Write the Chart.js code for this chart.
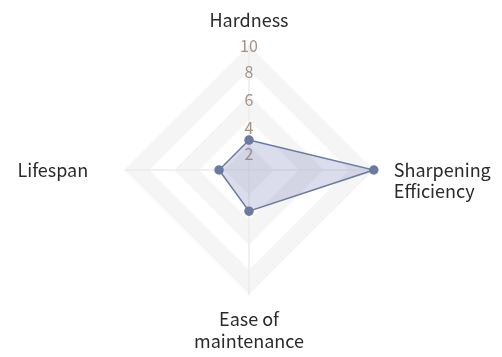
<!DOCTYPE html>
<html>
<head>
<meta charset="utf-8">
<script src="https://cdn.jsdelivr.net/npm/chart.js@4"></script>
<style>
  html, body { margin: 0; padding: 0; background: #fff; overflow: hidden; }
  #wrap { width: 502px; height: 363px; }
</style>
</head>
<body>
<div id="wrap"><canvas id="chart"></canvas></div>
<script>
// leading "" keeps "Sharpening" level with the axis, as in the original
const categories = ["Hardness", ["", "Sharpening", "Efficiency"], ["Ease of", "maintenance"], "Lifespan"];
const values = [2.4, 10, 3.3, 2.4];
const tickLabels = [2, 4, 6, 8, 10];

const font = "'Noto Sans CJK JP', 'Noto Sans', sans-serif";
// gap between the outer ring and each category label
const labelGaps = [14, 20, 14, 36];
// the tick numbers sit a little below their rings in the original
const tickDrop = { 2: 9, 4: 8, 6: 5, 8: 2, 10: 1 };

new Chart(document.getElementById("chart"), {
  type: "radar",
  data: {
    labels: categories,
    datasets: [
      {
        data: values,
        borderColor: "rgba(106, 122, 160, 1)",
        backgroundColor: "rgba(110, 112, 175, 0.24)",
        borderWidth: 1.5,
        pointBackgroundColor: "rgba(106, 122, 160, 1)",
        pointBorderColor: "rgba(106, 122, 160, 1)",
        pointRadius: 4,
        fill: true,
      },
    ],
  },
  options: {
    responsive: true,
    maintainAspectRatio: false,
    animation: false,
    layout: { padding: { left: 8 } },
    plugins: { legend: { display: false }, tooltip: { enabled: false } },
    scales: {
      r: {
        min: 0,
        max: 10,
        ticks: {
          stepSize: 1,
          color: "#a39185",
          font: {
            family: font,
            size: 16,
            lineHeight: (ctx) => (tickDrop[ctx.tick && ctx.tick.value] || 1) + "px",
          },
          showLabelBackdrop: false,
          // cancels the room chart.js keeps for tick backdrops
          backdropPadding: { top: -8, bottom: -8, left: 0, right: 0 },
          callback: (v) => (tickLabels.includes(v) ? ["", String(v)] : ""),
        },
        grid: {
          // wide lines at 1, 5, 9 paint the alternating bands
          color: (ctx) => ([1, 5, 9].includes(ctx.tick.value) ? "#f5f5f5" : "transparent"),
          lineWidth: (ctx) => (ctx.scale.drawingArea / 5) * Math.SQRT1_2,
        },
        angleLines: { color: "#ebebeb", lineWidth: 1.5 },
        pointLabels: {
          color: "#2a2a2a",
          font: { family: font, size: 18 },
          padding: (ctx) => labelGaps[ctx.index],
        },
      },
    },
  },
});
</script>
</body>
</html>
